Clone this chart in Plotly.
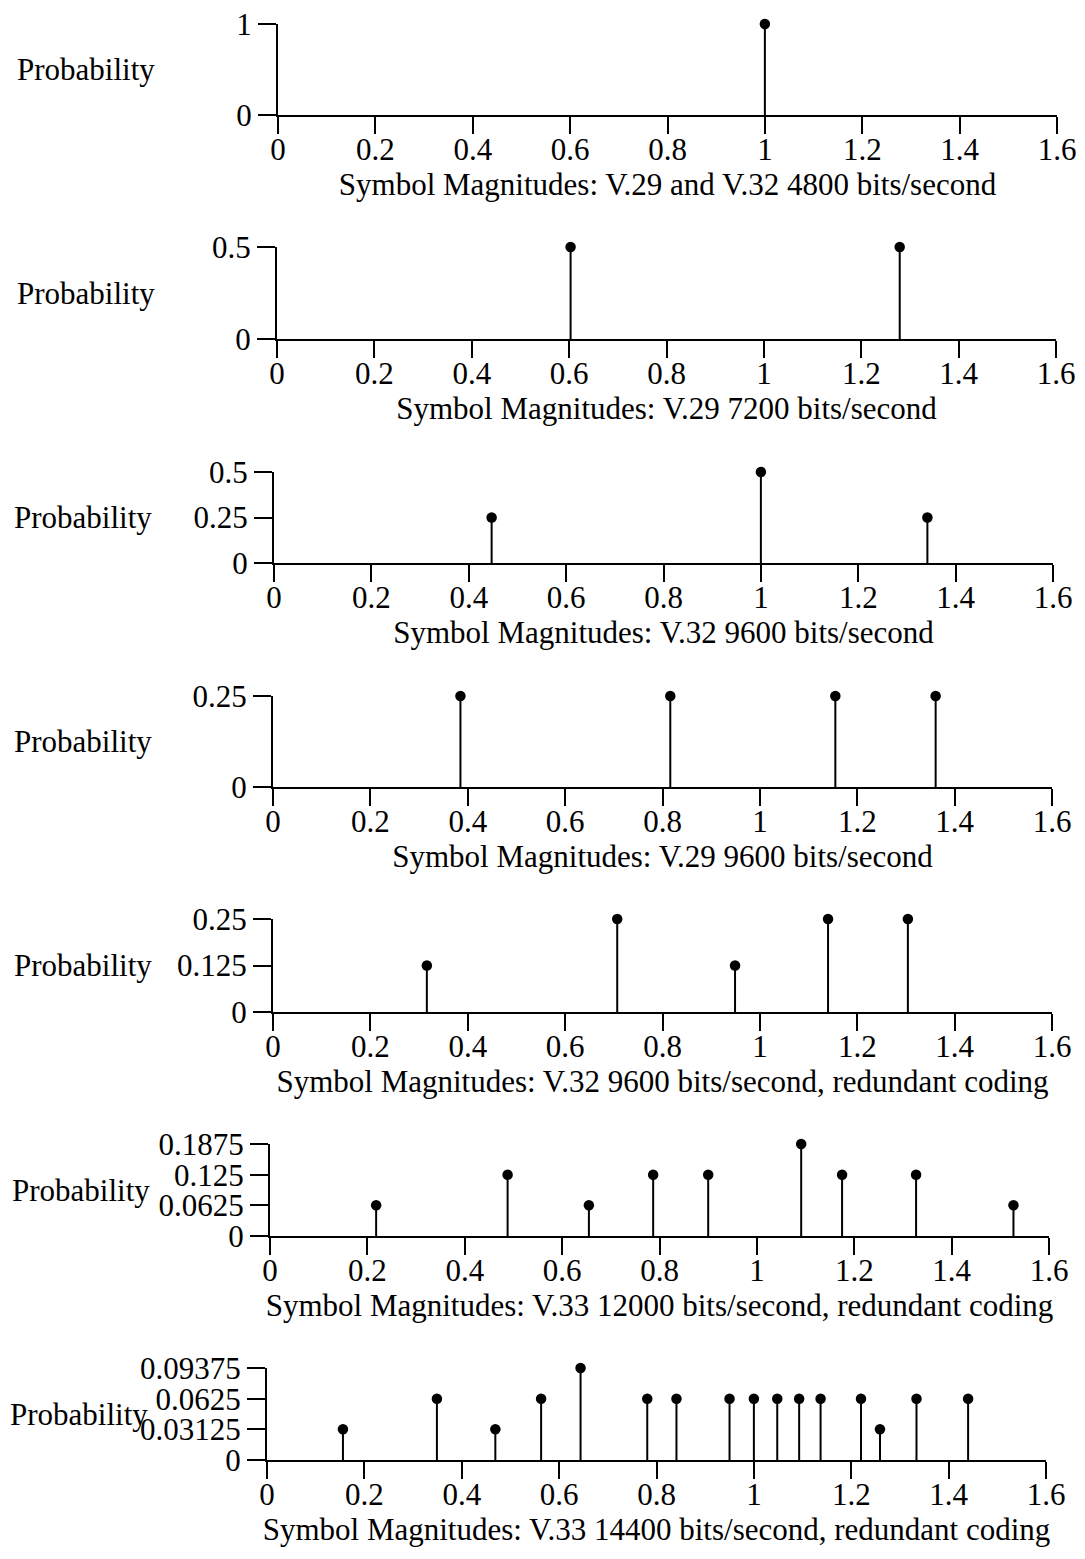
import plotly.graph_objects as go

# ---- data -------------------------------------------------------------
x_ticks = [0, 0.2, 0.4, 0.6, 0.8, 1.0, 1.2, 1.4, 1.6]
x_tick_labels = ["0", "0.2", "0.4", "0.6", "0.8", "1", "1.2", "1.4", "1.6"]

titles = [
    "Symbol Magnitudes: V.29 and V.32 4800 bits/second",
    "Symbol Magnitudes: V.29 7200 bits/second",
    "Symbol Magnitudes: V.32 9600 bits/second",
    "Symbol Magnitudes: V.29 9600 bits/second",
    "Symbol Magnitudes: V.32 9600 bits/second, redundant coding",
    "Symbol Magnitudes: V.33 12000 bits/second, redundant coding",
    "Symbol Magnitudes: V.33 14400 bits/second, redundant coding",
]

mag_v29_v32_4800 = [1.0]
prob_v29_v32_4800 = [1.0]

mag_v29_7200 = [0.603, 1.279]
prob_v29_7200 = [0.5, 0.5]

mag_v32_9600 = [0.447, 1.0, 1.342]
prob_v32_9600 = [0.25, 0.5, 0.25]

mag_v29_9600 = [0.385, 0.816, 1.155, 1.361]
prob_v29_9600 = [0.25, 0.25, 0.25, 0.25]

mag_v32_9600_tcm = [0.316, 0.707, 0.949, 1.140, 1.304]
prob_v32_9600_tcm = [0.125, 0.25, 0.125, 0.25, 0.25]

mag_v33_12000 = [0.218, 0.488, 0.655, 0.787, 0.900, 1.091, 1.175, 1.327, 1.527]
prob_v33_12000 = [0.0625, 0.125, 0.0625, 0.125, 0.125, 0.1875, 0.125, 0.125, 0.0625]

mag_v33_14400 = [0.156, 0.349, 0.469, 0.563, 0.644, 0.781, 0.841, 0.950,
                 1.0, 1.048, 1.093, 1.137, 1.220, 1.259, 1.334, 1.440]
prob_v33_14400 = [0.03125, 0.0625, 0.03125, 0.0625, 0.09375, 0.0625, 0.0625, 0.0625,
                  0.0625, 0.0625, 0.0625, 0.0625, 0.0625, 0.03125, 0.0625, 0.0625]

y_ticks = [
    [0, 1],
    [0, 0.5],
    [0, 0.25, 0.5],
    [0, 0.25],
    [0, 0.125, 0.25],
    [0, 0.0625, 0.125, 0.1875],
    [0, 0.03125, 0.0625, 0.09375],
]
y_tick_labels = [
    ["0", "1"],
    ["0", "0.5"],
    ["0", "0.25", "0.5"],
    ["0", "0.25"],
    ["0", "0.125", "0.25"],
    ["0", "0.0625", "0.125", "0.1875"],
    ["0", "0.03125", "0.0625", "0.09375"],
]

magnitudes = [mag_v29_v32_4800, mag_v29_7200, mag_v32_9600, mag_v29_9600,
              mag_v32_9600_tcm, mag_v33_12000, mag_v33_14400]
probabilities = [prob_v29_v32_4800, prob_v29_7200, prob_v32_9600, prob_v29_9600,
                 prob_v32_9600_tcm, prob_v33_12000, prob_v33_14400]

# ---- page geometry (pixels) -------------------------------------------
W, H = 1085, 1559
plot_left = [278, 277, 274, 273, 273, 270, 267]
plot_width = 779
plot_top = [24, 247, 472, 696, 919, 1144, 1368]
plot_zero = [115, 339, 563, 787, 1012, 1236, 1460]
label_left = [15, 15, 12, 12, 12, 10, 8]

FONT = "Liberation Serif, Times New Roman, serif"
FS = 31
INK = "black"

fig = go.Figure()
annotations = []

for i in range(7):
    n = i + 1
    xa = "x" if n == 1 else f"x{n}"
    ya = "y" if n == 1 else f"y{n}"

    # stems: one segment per symbol magnitude, from 0 up to its probability
    sx, sy = [], []
    for m, p in zip(magnitudes[i], probabilities[i]):
        sx += [m, m, None]
        sy += [0, p, None]
    fig.add_trace(go.Scatter(
        x=sx, y=sy, mode="lines", xaxis=xa, yaxis=ya,
        line=dict(color=INK, width=2), cliponaxis=False,
        hoverinfo="skip", showlegend=False))
    fig.add_trace(go.Scatter(
        x=magnitudes[i], y=probabilities[i], mode="markers", xaxis=xa, yaxis=ya,
        marker=dict(color=INK, size=10.5, line=dict(width=0)), cliponaxis=False,
        showlegend=False))

    x0 = plot_left[i] / W
    x1 = (plot_left[i] + plot_width) / W
    y0 = 1 - plot_zero[i] / H
    y1 = 1 - plot_top[i] / H

    fig.layout[f"xaxis{'' if n == 1 else n}"] = dict(
        domain=[x0, x1], anchor=ya, range=[0, 1.6],
        tickmode="array", tickvals=x_ticks, ticktext=x_tick_labels,
        ticks="outside", ticklen=17, tickwidth=2, tickcolor=INK,
        ticklabelstandoff=-11,
        showline=True, linecolor=INK, linewidth=2, showgrid=False,
        zeroline=False, automargin=False,
        tickfont=dict(family=FONT, size=FS, color=INK),
        title=dict(text=titles[i], font=dict(family=FONT, size=FS, color=INK),
                   standoff=6),
    )
    fig.layout[f"yaxis{'' if n == 1 else n}"] = dict(
        domain=[y0, y1], anchor=xa, range=[0, y_ticks[i][-1]],
        tickmode="array", tickvals=y_ticks[i], ticktext=y_tick_labels[i],
        ticks="outside", ticklen=18, tickwidth=2, tickcolor=INK,
        showline=True, linecolor=INK, linewidth=2, showgrid=False,
        zeroline=False, automargin=False,
        tickfont=dict(family=FONT, size=FS, color=INK),
    )

    annotations.append(dict(
        text="Probability", xref="paper", yref=f"{ya} domain",
        x=label_left[i] / W, y=0.5, xanchor="left", yanchor="middle",
        showarrow=False, font=dict(family=FONT, size=FS, color=INK)))

fig.update_layout(
    width=W, height=H,
    margin=dict(l=0, r=0, t=0, b=0),
    paper_bgcolor="white", plot_bgcolor="white",
    annotations=annotations,
    showlegend=False,
)

fig.write_html("out.html", config={"displayModeBar": False})
